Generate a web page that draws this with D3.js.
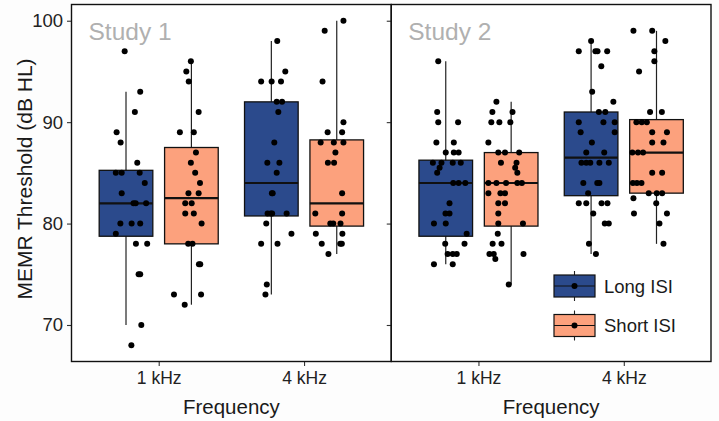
<!DOCTYPE html>
<html>
<head>
<meta charset="utf-8">
<script src="https://cdn.jsdelivr.net/npm/d3@7"></script>
<style>
  body { margin: 0; background: #ffffff; }
  svg { font-family: "Liberation Sans", Arial, sans-serif; }
</style>
</head>
<body>
<svg id="chart"></svg>
<script>
// ---- data ----
const studies = ["Study 1", "Study 2"];
const frequencies = ["1 kHz", "4 kHz"];
const isi_groups = ["Long ISI", "Short ISI"];
const y_ticks = [70, 80, 90, 100];

// box statistics per group: [whisker low, Q1, median, Q3, whisker high]
const box_s1_1k_long  = [70, 78.75, 82, 85.25, 93];
const box_s1_1k_short = [72, 78, 82.5, 87.5, 96];
const box_s1_4k_long  = [73, 80.75, 84, 92, 98];
const box_s1_4k_short = [77, 79.75, 82, 88.25, 100];
const box_s2_1k_long  = [76, 78.75, 84, 86.25, 96];
const box_s2_1k_short = [74, 79.75, 84, 87, 92];
const box_s2_4k_long  = [77, 82.75, 86.5, 91, 98];
const box_s2_4k_short = [78, 83, 87, 90.25, 99];

// individual thresholds (dB HL) and their horizontal jitter (fraction of half box width)
const pts_s1_1k_long  = [97, 93, 91, 89, 88, 86, 85, 85, 85, 84, 83, 82, 82, 82, 80, 80, 80, 79, 78, 78, 75, 75, 70, 68];
const jit_s1_1k_long  = [-0.05, 0.53, 0.33, -0.35, -0.2, 0.42, -0.38, -0.16, 0.51, 0.7, -0.16, 0.28, 0.36, 0.75, -0.21, 0.21, 0.53, -0.38, 0.37, 0.79, 0.47, 0.53, 0.57, 0.2];
const pts_s1_1k_short = [96, 95, 94, 91, 89, 89, 87, 86, 85, 84, 83, 83, 82, 82, 81, 81, 80, 78, 78, 76, 76, 73, 73, 72];
const jit_s1_1k_short = [-0.02, -0.19, -0.1, 0.27, -0.43, 0.09, 0.17, -0.02, 0.14, 0.32, -0.11, 0.27, -0.23, 0.01, -0.23, 0.09, 0.38, -0.12, 0.04, 0.28, 0.33, -0.65, 0.36, -0.25];
const pts_s1_4k_long  = [98, 95, 94, 94, 94, 92, 92, 91, 88, 86, 86, 85, 83, 83, 81, 81, 81, 81, 80, 79, 78, 78, 74, 73];
const jit_s1_4k_long  = [0.22, 0.52, -0.38, 0.01, 0.36, 0.2, 0.4, 0.26, 0.11, -0.15, 0.3, 0.2, 0.02, 0.05, -0.14, -0.02, 0.03, 0.57, -0.19, 0.75, -0.38, 0.23, -0.17, -0.22];
const pts_s1_4k_short = [100, 99, 94, 90, 89, 89, 88, 88, 88, 87, 86, 86, 83, 81, 81, 80, 80, 80, 79, 79, 78, 78, 78, 77];
const jit_s1_4k_short = [0.25, -0.45, -0.53, 0.25, -0.34, 0.2, -0.6, -0.11, 0.25, -0.05, -0.33, -0.1, 0.2, -0.8, 0.2, -0.24, -0.13, 0.14, -0.78, 0.21, -0.56, 0.13, 0.19, -0.31];
const pts_s2_1k_long  = [96, 91, 90, 90, 88, 88, 87, 87, 87, 86, 86, 86, 86, 85.5, 85, 84, 84, 84, 82, 81, 81, 80, 80, 79, 78, 78, 77, 77, 77, 76, 76];
const jit_s2_1k_long  = [-0.28, -0.32, -0.28, 0.46, -0.35, 0.3, 0, 0.3, 0.48, -0.48, -0.16, 0.26, 0.56, -0.23, -0.32, 0.28, 0.48, 0.73, 0.14, -0.01, 0.14, -0.44, 0, 0.78, -0.02, 0.7, 0.07, 0.26, 0.41, -0.44, 0.26];
const pts_s2_1k_short = [92, 91, 91, 90, 90, 90, 88, 87, 87, 87, 86, 86, 85.5, 85, 84, 84, 84, 84, 84, 83, 83, 83, 82, 82, 81, 80, 80, 79, 78, 78, 77, 77, 77, 76.5, 74];
const jit_s2_1k_short = [-0.55, -0.7, 0.05, -0.74, -0.44, -0.03, -0.85, -0.48, -0.23, 0.3, -0.38, 0.2, 0.15, 0.23, -0.85, -0.55, -0.19, 0.23, 0.4, -0.85, -0.4, -0.23, -0.48, -0.23, -0.48, -0.48, 0.44, -0.5, -0.69, -0.36, -0.81, -0.65, 0.46, -0.59, -0.09];
const pts_s2_4k_long  = [98, 97, 97, 97, 97, 95.5, 93, 92, 91, 91, 90, 90, 90, 89, 89, 88, 87, 87, 86, 86, 86, 86, 86, 84, 84, 84, 83, 82, 82, 82, 82, 81, 80, 80, 78, 77];
const jit_s2_4k_long  = [0, -0.46, 0.16, 0.24, 0.6, 0.38, 0.04, 0.83, 0.29, 0.53, -0.46, 0.46, 0.88, -0.39, 0.88, 0.03, -0.18, 0.49, -0.36, -0.18, -0.03, 0.31, 0.66, -0.29, 0.23, 0.31, -0.11, -0.46, -0.18, 0.39, 0.61, 0.08, 0.51, 0.66, -0.08, 0.18];
const pts_s2_4k_short = [99, 99, 98, 97, 96, 95, 91, 91, 90, 90, 90, 89, 89, 88, 88, 87, 87, 87, 85, 85, 84, 84, 84, 83, 83, 83, 82.5, 82, 81, 81, 80, 78];
const jit_s2_4k_short = [-0.86, -0.16, 0.33, -0.08, -0.08, -0.65, -0.24, 0.2, -0.75, -0.55, -0.36, -0.16, 0.39, -0.16, 0.26, -0.9, -0.69, -0.5, -0.16, 0.21, -0.88, -0.73, -0.56, -0.29, 0.01, 0.21, -0.86, -0.01, -0.84, 0.39, 0.11, 0.26];

// assemble the groups (only references to the arrays above)
const groups = [
    { study: "Study 1", freq: "1 kHz", isi: "Long ISI",  box: box_s1_1k_long,  pts: pts_s1_1k_long,  jit: jit_s1_1k_long },
    { study: "Study 1", freq: "1 kHz", isi: "Short ISI", box: box_s1_1k_short, pts: pts_s1_1k_short, jit: jit_s1_1k_short },
    { study: "Study 1", freq: "4 kHz", isi: "Long ISI",  box: box_s1_4k_long,  pts: pts_s1_4k_long,  jit: jit_s1_4k_long },
    { study: "Study 1", freq: "4 kHz", isi: "Short ISI", box: box_s1_4k_short, pts: pts_s1_4k_short, jit: jit_s1_4k_short },
    { study: "Study 2", freq: "1 kHz", isi: "Long ISI",  box: box_s2_1k_long,  pts: pts_s2_1k_long,  jit: jit_s2_1k_long },
    { study: "Study 2", freq: "1 kHz", isi: "Short ISI", box: box_s2_1k_short, pts: pts_s2_1k_short, jit: jit_s2_1k_short },
    { study: "Study 2", freq: "4 kHz", isi: "Long ISI",  box: box_s2_4k_long,  pts: pts_s2_4k_long,  jit: jit_s2_4k_long },
    { study: "Study 2", freq: "4 kHz", isi: "Short ISI", box: box_s2_4k_short, pts: pts_s2_4k_short, jit: jit_s2_4k_short }
];

// ---- layout ----
const width = 719, height = 421;
const margins = { top: 4.5, right: 8, bottom: 59.5, left: 71.5 };
const panels_width = width - margins.left - margins.right;
const panel_height = height - margins.top - margins.bottom;
const font = "'Liberation Sans', Arial, sans-serif";

const svg = d3.select("#chart")
    .attr("width", width)
    .attr("height", height);

svg.append("rect").attr("width", width).attr("height", height).attr("fill", "#fdfdfd");

// Scales
const study_scale = d3.scaleBand().domain(studies).range([margins.left, margins.left + panels_width]);
const panel_width = study_scale.bandwidth();
const freq_scale = d3.scalePoint().domain(frequencies).range([0, panel_width]).padding(0.6);
const step = freq_scale.step();
const isi_scale = d3.scaleBand().domain(isi_groups).range([-0.45 * step, 0.45 * step]);
const box_width = isi_scale.bandwidth() * 0.82;
const y_scale = d3.scaleLinear().domain([66.4, 101.6]).range([margins.top + panel_height, margins.top]);
const fill_scale = d3.scaleOrdinal().domain(isi_groups).range(["#2B4A8C", "#FCA17D"]);

const x_center = g => study_scale(g.study) + freq_scale(g.freq) + isi_scale(g.isi) + isi_scale.bandwidth() / 2;

// Panels
studies.forEach((study, si) => {
    const px = study_scale(study);
    const panel = svg.append("g").attr("transform", `translate(${px},0)`);

    panel.append("rect")
        .attr("x", 0).attr("y", margins.top)
        .attr("width", panel_width).attr("height", panel_height)
        .attr("fill", "#ffffff");

    // study label
    panel.append("text")
        .attr("x", 17).attr("y", margins.top + 35)
        .attr("font-size", 24.5)
        .attr("fill", "#B0B0B0")
        .text(study);

    // x axis
    const x_axis = panel.append("g")
        .attr("transform", `translate(0,${margins.top + panel_height})`)
        .call(d3.axisBottom(freq_scale).tickSize(4.5).tickPadding(6));
    x_axis.select(".domain").remove();
    x_axis.selectAll("line").attr("stroke", "#333").attr("stroke-width", 1.1);
    x_axis.selectAll("text").attr("font-size", 17.5).attr("fill", "#222").attr("font-family", font);

    // x title
    panel.append("text")
        .attr("x", panel_width / 2).attr("y", 414)
        .attr("text-anchor", "middle")
        .attr("font-size", 20.5)
        .attr("fill", "#1a1a1a")
        .text("Frequency");

    // y axis
    const y_axis = panel.append("g")
        .call(d3.axisLeft(y_scale).tickValues(y_ticks).tickSize(4.5).tickPadding(4));
    y_axis.select(".domain").remove();
    y_axis.selectAll("line").attr("stroke", "#333").attr("stroke-width", 1.1);
    y_axis.selectAll("text")
        .attr("font-size", 18.5).attr("fill", "#222").attr("font-family", font)
        .style("display", si === 0 ? null : "none");
});

// y title
svg.append("text")
    .attr("transform", `translate(32,${margins.top + panel_height / 2 - 4}) rotate(-90)`)
    .attr("text-anchor", "middle")
    .attr("font-size", 21)
    .attr("fill", "#1a1a1a")
    .text("MEMR Threshold (dB HL)");

// Boxplots
const box_g = svg.append("g");
groups.forEach(g => {
    const cx = x_center(g);
    const [lo, q1, med, q3, hi] = g.box;

    box_g.append("line")
        .attr("x1", cx).attr("x2", cx)
        .attr("y1", y_scale(hi)).attr("y2", y_scale(lo))
        .attr("stroke", "#222").attr("stroke-width", 1.2);

    box_g.append("rect")
        .attr("x", cx - box_width / 2).attr("width", box_width)
        .attr("y", y_scale(q3)).attr("height", y_scale(q1) - y_scale(q3))
        .attr("fill", fill_scale(g.isi))
        .attr("stroke", "#111").attr("stroke-width", 1.3);

    box_g.append("line")
        .attr("x1", cx - box_width / 2).attr("x2", cx + box_width / 2)
        .attr("y1", y_scale(med)).attr("y2", y_scale(med))
        .attr("stroke", "#111").attr("stroke-width", 2.2);
});

// Jittered points
groups.forEach(g => {
    const cx = x_center(g);
    svg.append("g").selectAll("circle")
        .data(g.pts)
        .enter()
        .append("circle")
        .attr("cx", (d, i) => cx + g.jit[i] * box_width / 2)
        .attr("cy", d => y_scale(d))
        .attr("r", 3)
        .attr("fill", "#000");
});

// Panel borders drawn on top
studies.forEach(study => {
    svg.append("rect")
        .attr("x", study_scale(study)).attr("y", margins.top)
        .attr("width", panel_width).attr("height", panel_height)
        .attr("fill", "none")
        .attr("stroke", "#111").attr("stroke-width", 1.4);
});

// Legend
const legend = svg.append("g").attr("transform", "translate(554,275)");
const key_w = 41, key_h = 22, key_gap = 39.5;
isi_groups.forEach((isi, i) => {
    const k = legend.append("g").attr("transform", `translate(0,${i * key_gap})`);
    k.append("line")
        .attr("x1", key_w / 2).attr("x2", key_w / 2)
        .attr("y1", -4).attr("y2", key_h + 4)
        .attr("stroke", "#222").attr("stroke-width", 1.1);
    k.append("rect")
        .attr("width", key_w).attr("height", key_h)
        .attr("fill", fill_scale(isi))
        .attr("stroke", "#111").attr("stroke-width", 1.2);
    k.append("line")
        .attr("x1", 0).attr("x2", key_w)
        .attr("y1", key_h / 2).attr("y2", key_h / 2)
        .attr("stroke", "#111").attr("stroke-width", 1.2);
    k.append("circle")
        .attr("cx", key_w / 2).attr("cy", key_h / 2)
        .attr("r", 3).attr("fill", "#000");
    k.append("text")
        .attr("x", 50).attr("y", key_h / 2 + 6.5)
        .attr("font-size", 18.5)
        .attr("fill", "#1a1a1a")
        .text(isi);
});
</script>
</body>
</html>
